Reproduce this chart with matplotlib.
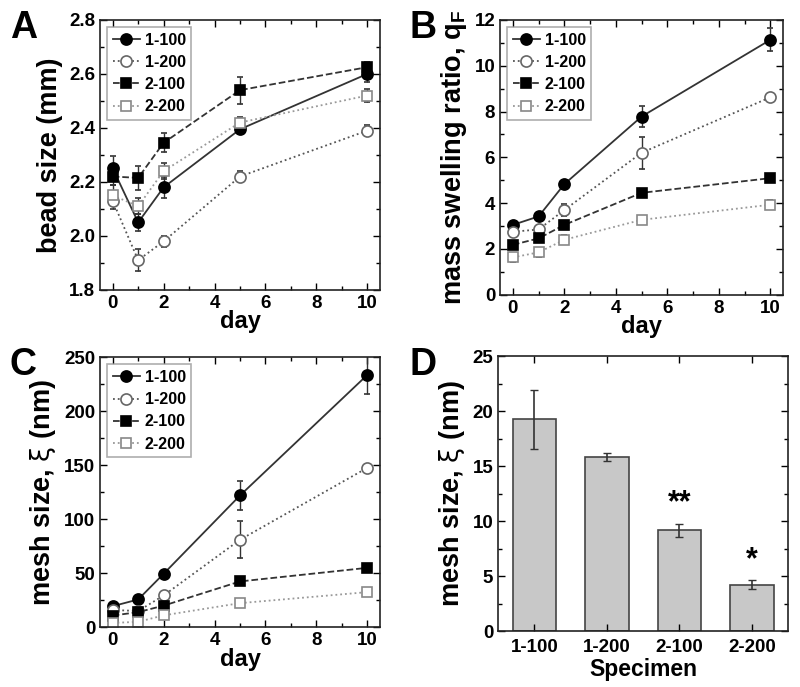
import matplotlib
matplotlib.use('Agg')
import matplotlib.pyplot as plt
from matplotlib.ticker import MultipleLocator, FormatStrFormatter
from matplotlib.lines import Line2D

plt.rcParams['font.family'] = ['Liberation Sans', 'DejaVu Sans']
plt.rcParams['font.weight'] = 'bold'
plt.rcParams['mathtext.fontset'] = 'custom'
plt.rcParams['mathtext.rm'] = 'Liberation Sans:bold'
plt.rcParams['mathtext.bf'] = 'Liberation Sans:bold'
plt.rcParams['mathtext.sf'] = 'DejaVu Sans:weight=normal'

# data
days = [0, 1, 2, 5, 10]
groups = ['1-100', '1-200', '2-100', '2-200']

bead_size = {
    '1-100': [2.25, 2.05, 2.18, 2.395, 2.60],
    '1-200': [2.13, 1.91, 1.98, 2.22, 2.39],
    '2-100': [2.22, 2.215, 2.345, 2.54, 2.625],
    '2-200': [2.15, 2.11, 2.24, 2.42, 2.52],
}
bead_size_err = {
    '1-100': [0.045, 0.03, 0.04, 0.015, 0.03],
    '1-200': [0.03, 0.04, 0.02, 0.02, 0.02],
    '2-100': [0.03, 0.045, 0.035, 0.05, 0.02],
    '2-200': [0.04, 0.03, 0.03, 0.02, 0.025],
}

swelling = {
    '1-100': [3.05, 3.42, 4.83, 7.78, 11.13],
    '1-200': [2.75, 2.85, 3.7, 6.2, 8.62],
    '2-100': [2.18, 2.46, 3.05, 4.45, 5.09],
    '2-200': [1.63, 1.85, 2.4, 3.27, 3.93],
}
swelling_err = {
    '1-100': [0.1, 0.15, 0.2, 0.45, 0.5],
    '1-200': [0.2, 0.2, 0.25, 0.7, 0.15],
    '2-100': [0.1, 0.1, 0.1, 0.1, 0.1],
    '2-200': [0.2, 0.2, 0.2, 0.15, 0.2],
}

mesh = {
    '1-100': [19.5, 25.7, 49.5, 122, 233.6],
    '1-200': [16, 15, 29.4, 81, 147.6],
    '2-100': [10.8, 14, 20, 42.4, 55],
    '2-200': [4, 5, 11, 22.3, 32.5],
}
mesh_err = {
    '1-100': [2, 2, 3, 13, 18],
    '1-200': [2, 2, 3, 17, 3],
    '2-100': [2, 2, 2, 2, 2],
    '2-200': [3, 3, 3, 3, 3],
}

mesh_day0 = [19.25, 15.85, 9.15, 4.2]
mesh_day0_err = [2.7, 0.35, 0.6, 0.4]
stars = ['', '', '**', '*']

styles = {
    '1-100': dict(marker='o', ls='-', color='#333333', mfc='black', mec='black', ms=8),
    '1-200': dict(marker='o', ls=':', color='#555555', mfc='white', mec='#666666', ms=8),
    '2-100': dict(marker='s', ls='--', color='#333333', mfc='black', mec='black', ms=7),
    '2-200': dict(marker='s', ls=':', color='#999999', mfc='white', mec='#888888', ms=7),
}


def style_axes(ax):
    ax.tick_params(direction='in', which='both', top=True, right=True,
                   labelsize=13.5, width=1)
    ax.tick_params(which='major', length=5)
    ax.tick_params(which='minor', length=3)
    for s in ax.spines.values():
        s.set_linewidth(1.2)
        s.set_color('#222222')


def line_panel(ax, data, err, ylim, ystep, ylabel):
    handles = []
    for g in groups:
        st = styles[g]
        ax.errorbar(days, data[g], yerr=err[g], lw=1.3, capsize=2.5,
                    ecolor='#333333', elinewidth=1, mew=1.2, **st)
        handles.append(Line2D([], [], lw=1.3, mew=1.2, label=g, **st))
    ax.set_xlim(-0.5, 10.5)
    ax.set_ylim(*ylim)
    ax.xaxis.set_major_locator(MultipleLocator(2))
    ax.xaxis.set_minor_locator(MultipleLocator(1))
    ax.yaxis.set_major_locator(MultipleLocator(ystep))
    ax.yaxis.set_minor_locator(MultipleLocator(ystep / 2))
    ax.set_xlabel('day', fontsize=17, fontweight='bold', labelpad=-1)
    ax.set_ylabel(ylabel, fontsize=19.5, fontweight='bold', labelpad=4)
    leg = ax.legend(handles=handles, loc='upper left', fontsize=11.5, frameon=True,
                    fancybox=False, handlelength=1.7, borderpad=0.35,
                    labelspacing=0.45, handletextpad=0.3, borderaxespad=0.45)
    leg.get_frame().set_edgecolor('#999999')
    leg.get_frame().set_linewidth(1.2)
    style_axes(ax)


fig = plt.figure(figsize=(8, 6.87), dpi=100)
axA = fig.add_axes([0.125, 0.578, 0.35, 0.393])
axB = fig.add_axes([0.625, 0.571, 0.354, 0.400])
axC = fig.add_axes([0.125, 0.087, 0.35, 0.393])
axD = fig.add_axes([0.6225, 0.0815, 0.3625, 0.400])

line_panel(axA, bead_size, bead_size_err, (1.8, 2.8), 0.2, 'bead size (mm)')
axA.yaxis.set_major_formatter(FormatStrFormatter('%.1f'))
line_panel(axB, swelling, swelling_err, (0, 12), 2, r'mass swelling ratio, q$_\mathregular{F}$')
line_panel(axC, mesh, mesh_err, (0, 250), 50, r'mesh size, $\mathsf{\xi}$ (nm)')

xpos = range(len(groups))
axD.bar(xpos, mesh_day0, width=0.6, color='#c8c8c8', edgecolor='#444444', linewidth=1.2)
axD.errorbar(xpos, mesh_day0, yerr=mesh_day0_err, fmt='none', ecolor='#333333',
             elinewidth=1.2, capsize=3)
for x, v, e, s in zip(xpos, mesh_day0, mesh_day0_err, stars):
    if s:
        axD.text(x, v + e + 0.5, s, ha='center', va='bottom', fontsize=22, fontweight='bold')
axD.set_xlim(-0.5, 3.5)
axD.set_ylim(0, 25)
axD.set_xticks(list(xpos))
axD.set_xticklabels(groups)
axD.yaxis.set_major_locator(MultipleLocator(5))
axD.yaxis.set_minor_locator(MultipleLocator(2.5))
axD.set_xlabel('Specimen', fontsize=16.5, fontweight='bold', labelpad=1)
axD.set_ylabel(r'mesh size, $\mathsf{\xi}$ (nm)', fontsize=19.5, fontweight='bold', labelpad=4)
style_axes(axD)
axD.tick_params(axis='x', pad=6)

for ax, letter, x, y in [(axA, 'A', 0.012, 0.985), (axB, 'B', 0.512, 0.985),
                         (axC, 'C', 0.012, 0.495), (axD, 'D', 0.512, 0.495)]:
    fig.text(x, y, letter, fontsize=27, fontweight='bold', va='top', ha='left')

fig.savefig('out.png', dpi=100)
